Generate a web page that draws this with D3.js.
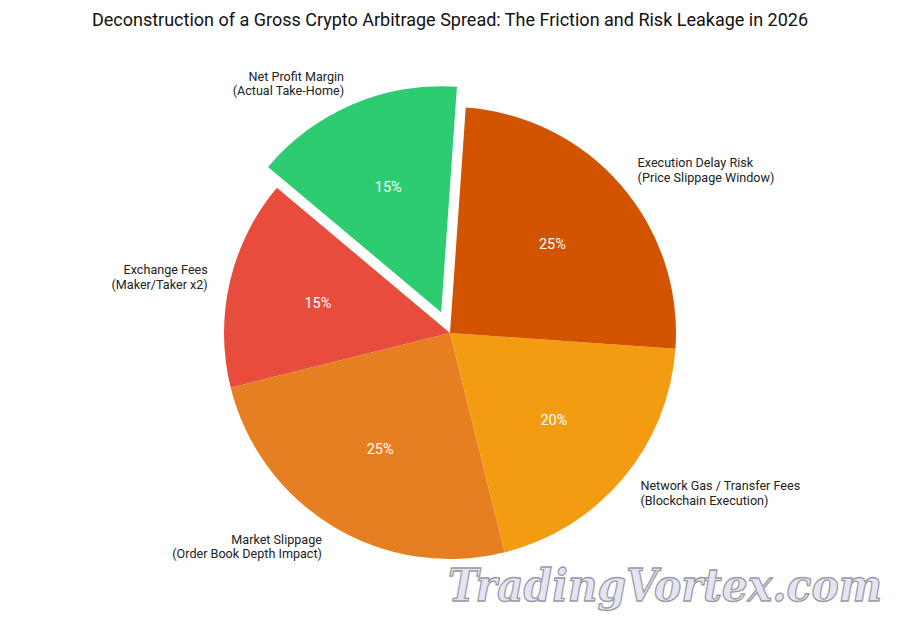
<!DOCTYPE html>
<html>
<head>
<meta charset="utf-8">
<script src="https://cdn.jsdelivr.net/npm/d3@7"></script>
<style>
  body { margin: 0; background: #fff; }
  svg { display: block; font-family: Roboto, "Open Sans", sans-serif; }
</style>
</head>
<body>
<div id="chart"></div>
<script>
// values in the order the slices are laid out (counter-clockwise from the start angle)
var labels = [
    ["Exchange Fees", "(Maker/Taker x2)"],
    ["Market Slippage", "(Order Book Depth Impact)"],
    ["Network Gas / Transfer Fees", "(Blockchain Execution)"],
    ["Execution Delay Risk", "(Price Slippage Window)"],
    ["Net Profit Margin", "(Actual Take-Home)"]
];
var shares = [15, 25, 20, 25, 15];
var colors = ["#e74c3c", "#e67e22", "#f39c12", "#d35400", "#2ecc71"];
var explode = [0, 0, 0, 0, 0.1];

var width = 900,
    height = 630,
    radius = 226,
    cx = 450,
    cy = 333;

var svg = d3.select("#chart")
    .append("svg")
    .attr("width", width)
    .attr("height", height);

svg.append("text")
    .attr("x", width / 2)
    .attr("y", 26)
    .attr("text-anchor", "middle")
    .style("font-size", "18px")
    .style("fill", "#111")
    .text("Deconstruction of a Gross Crypto Arbitrage Spread: The Friction and Risk Leakage in 2026");

var start = 310 * Math.PI / 180;
var pie = d3.pie()
    .sort(null)
    .startAngle(start)
    .endAngle(start - 2 * Math.PI)
    .value(function (d) { return d; });

var arc = d3.arc()
    .innerRadius(0)
    .outerRadius(radius);

var arcs = pie(shares);

var g = svg.append("g")
    .attr("transform", "translate(" + cx + "," + cy + ")");

var slice = g.selectAll(".slice")
    .data(arcs)
    .enter().append("g")
    .attr("class", "slice")
    .attr("transform", function (d, i) {
        var a = (d.startAngle + d.endAngle) / 2;
        var off = explode[i] * radius;
        return "translate(" + (off * Math.sin(a)) + "," + (-off * Math.cos(a)) + ")";
    });

slice.append("path")
    .attr("d", arc)
    .style("fill", function (d, i) { return colors[i]; });

// percentage labels
slice.append("text")
    .attr("x", function (d) { return 0.6 * radius * Math.sin((d.startAngle + d.endAngle) / 2); })
    .attr("y", function (d) { return -0.6 * radius * Math.cos((d.startAngle + d.endAngle) / 2); })
    .attr("dy", "0.35em")
    .attr("text-anchor", "middle")
    .style("font-size", "14.5px")
    .style("fill", "#fff")
    .text(function (d) { return d.data + "%"; });

// category labels
var lab = slice.append("text")
    .attr("text-anchor", function (d) {
        return Math.sin((d.startAngle + d.endAngle) / 2) > 0 ? "start" : "end";
    })
    .style("font-size", "12.6px")
    .style("fill", "#222")
    .attr("transform", function (d) {
        var a = (d.startAngle + d.endAngle) / 2;
        return "translate(" + (1.1 * radius * Math.sin(a)) + "," + (-1.1 * radius * Math.cos(a)) + ")";
    });

lab.selectAll("tspan")
    .data(function (d, i) { return labels[i]; })
    .enter().append("tspan")
    .attr("x", 0)
    .attr("y", function (d, j) { return -7 + j * 14.5; })
    .attr("dy", "0.35em")
    .text(function (d) { return d; });

// watermark
svg.append("text")
    .attr("x", 448)
    .attr("y", 601)
    .attr("textLength", 434)
    .attr("lengthAdjust", "spacingAndGlyphs")
    .style("font-family", "'DejaVu Serif', serif")
    .style("font-style", "italic")
    .style("font-weight", "bold")
    .style("font-size", "44px")
    .style("fill", "#e6e4f2")
    .style("stroke", "#9a9aa6")
    .style("stroke-width", "1.3px")
    .text("TradingVortex.com");
</script>
</body>
</html>
